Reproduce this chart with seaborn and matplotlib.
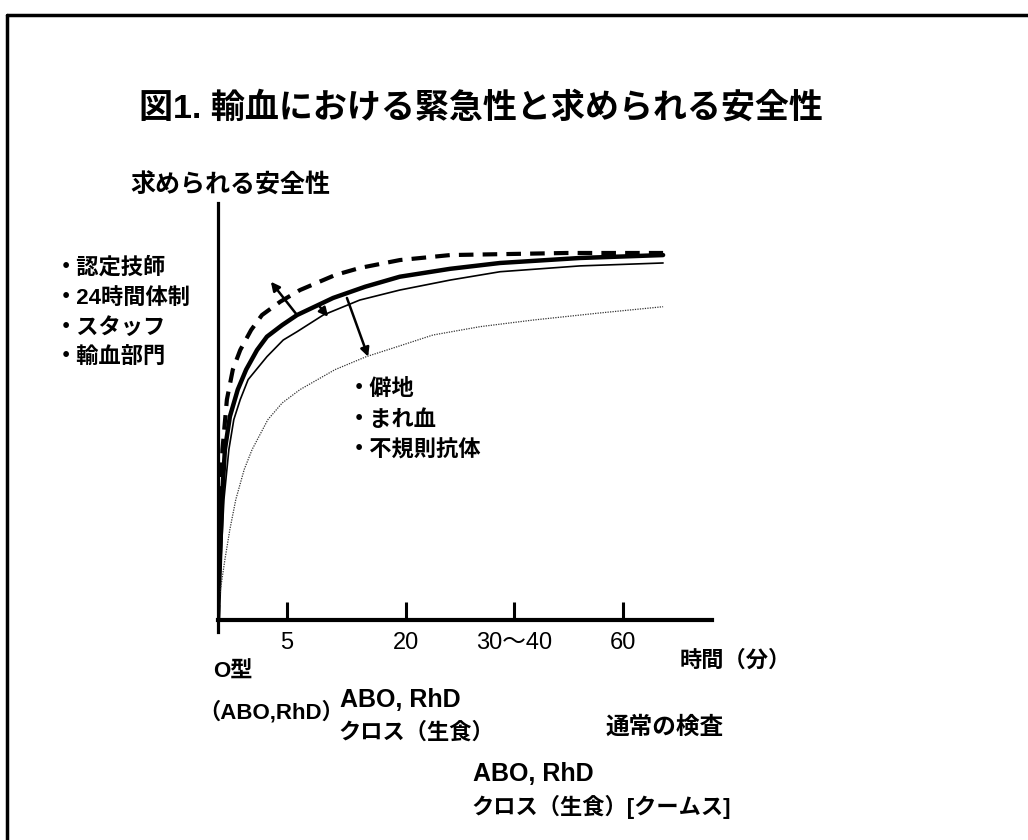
import numpy as np
import pandas as pd
import seaborn as sns
import matplotlib.pyplot as plt
from matplotlib.lines import Line2D

# curves (x: position along time axis 0-100, y: required safety 0-100)
dashed_x = [0, 0.2, 0.5, 0.9, 1.8, 3.0, 4.5, 6.7, 8.9, 12.6, 16.6, 23.7, 28.7, 36.8, 47.0, 70.6, 90.1]
dashed_y = [0, 14.4, 28.8, 40.8, 52.8, 60.0, 64.7, 69.5, 73.1, 76.3, 79.1, 82.7, 84.4, 86.3, 87.5, 88.0, 88.0]

thick_x = [0, 0.4, 0.8, 1.4, 2.4, 4.0, 5.7, 7.9, 9.9, 13.0, 16.0, 23.3, 29.8, 36.8, 47.0, 57.1, 73.3, 90.1]
thick_y = [0, 14.4, 28.8, 40.8, 48.7, 55.2, 60.0, 64.7, 67.9, 70.7, 73.1, 77.2, 79.9, 82.3, 84.2, 85.6, 86.8, 87.5]

thin_x = [0, 0.6, 1.2, 2.2, 3.2, 4.5, 6.1, 9.9, 13.2, 16.0, 21.3, 28.7, 36.8, 47.0, 57.1, 73.3, 90.1]
thin_y = [0, 14.4, 28.8, 40.8, 48.0, 52.8, 57.6, 63.1, 67.1, 69.1, 73.1, 76.7, 79.1, 81.5, 83.5, 84.9, 85.6]

dotted_x = [0, 0.2, 1.4, 2.4, 3.6, 5.3, 6.9, 10.1, 13.0, 16.6, 23.7, 30.0, 36.8, 43.5, 53.0, 63.8, 77.3, 90.1]
dotted_y = [0, 4.8, 14.4, 21.6, 28.8, 36.0, 40.8, 48.0, 52.0, 55.2, 60.0, 63.1, 65.7, 68.3, 70.3, 71.9, 73.6, 75.1]

# arrows: (tail, head)
arrows = [((16.0, 73.1), (10.7, 81.1)),
          ((20.6, 75.1), (22.3, 72.7)),
          ((26.1, 77.2), (30.4, 63.1))]

tick_pos = [14, 38, 60, 82]
tick_labels = ["5", "20", "30〜40", "60"]

title = "図1. 輸血における緊急性と求められる安全性"
y_title = "求められる安全性"
x_title = "時間（分）"
left_items = ["・認定技師", "・24時間体制", "・スタッフ", "・輸血部門"]
right_items = ["・僻地", "・まれ血", "・不規則抗体"]

sns.set_theme(style="white")
plt.rcParams['font.family'] = ['Liberation Sans', 'Noto Sans CJK JP', 'DejaVu Sans']

W, H = 1028, 840
fig = plt.figure(figsize=(W / 100, H / 100), dpi=100)
ax = fig.add_axes([218 / W, 1 - 632 / H, 494 / W, (632 - 203) / H])

sns.lineplot(x=dashed_x, y=dashed_y, ax=ax, color="black", lw=3, sort=False,
             estimator=None, linestyle=(0, (3.5, 2.2)))
sns.lineplot(x=thick_x, y=thick_y, ax=ax, color="black", lw=3.2, sort=False, estimator=None)
sns.lineplot(x=thin_x, y=thin_y, ax=ax, color="black", lw=1.2, sort=False, estimator=None)
sns.lineplot(x=dotted_x, y=dotted_y, ax=ax, color="#333333", lw=0.9, sort=False,
             estimator=None, linestyle=(0, (1, 1)))

for tail, head in arrows:
    ax.annotate("", xy=head, xytext=tail,
                arrowprops=dict(arrowstyle="-|>", color="black", lw=1.8,
                                mutation_scale=13, shrinkA=0, shrinkB=0))

ax.set_xlim(0, 100)
ax.set_ylim(-3, 100)
ax.set_yticks([])
ax.tick_params(axis="x", which="major", bottom=True, direction="in", length=13,
               width=2.2, pad=9, colors="black", labelsize=17)
ax.set_xticks(tick_pos)
ax.set_xticklabels(tick_labels)
ax.spines["bottom"].set_position(("data", 0))
ax.spines["bottom"].set_linewidth(3)
ax.spines["left"].set_linewidth(2.3)
for s in ["top", "right"]:
    ax.spines[s].set_visible(False)
for s in ["bottom", "left"]:
    ax.spines[s].set_color("black")


def put(px, py, s, size, weight="bold"):
    fig.text(px / W, 1 - py / H, s, fontsize=size, fontweight=weight,
             ha="left", va="center", color="black")


put(139, 108, title, 24.5)
put(130, 186, y_title, 18)
for i, s in enumerate(left_items):
    put(55, 268 + i * 30, s, 16)
for i, s in enumerate(right_items):
    put(348, 389 + i * 31, s, 16)
put(680, 661, x_title, 16)
put(213, 672, "O型", 16)
put(198, 712, "（ABO,RhD）", 16)
put(340, 700, "ABO, RhD", 18)
put(338, 733, "クロス（生食）", 16)
put(606, 727, "通常の検査", 17)
put(473, 774, "ABO, RhD", 18)
put(471, 807, "クロス（生食）[クームス]", 16)

# outer frame (left and top edges)
fig.add_artist(Line2D([7 / W, 7 / W], [0, 1 - 15 / H], transform=fig.transFigure,
                      color="black", lw=2.5))
fig.add_artist(Line2D([7 / W, 1], [1 - 15 / H, 1 - 15 / H], transform=fig.transFigure,
                      color="black", lw=2.5))

fig.savefig("out.png", dpi=100, facecolor="white")
